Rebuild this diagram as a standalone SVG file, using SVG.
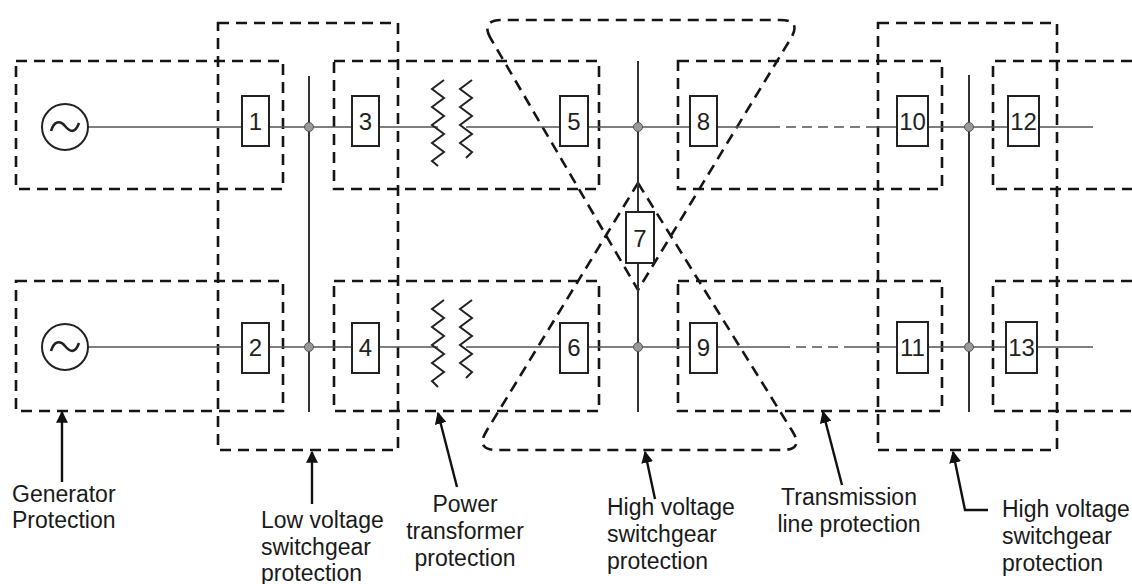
<svg xmlns="http://www.w3.org/2000/svg" width="1132" height="584" viewBox="0 0 1132 584">
<style>
.zone{fill:none;stroke:#151515;stroke-width:2.6;stroke-dasharray:11 7}
.wire{fill:none;stroke:#555;stroke-width:1.4}
.wired{fill:none;stroke:#555;stroke-width:1.4;stroke-dasharray:10 6}
.bus{fill:none;stroke:#333;stroke-width:2}
.jn{fill:#999;stroke:#555;stroke-width:1}
.brk rect{fill:#fff;stroke:#222;stroke-width:2}
.brk text{font-family:"Liberation Sans",Arial,sans-serif;font-size:24px;fill:#222;text-anchor:middle}
.coil{fill:none;stroke:#222;stroke-width:2}
.gen circle{fill:#fff;stroke:#222;stroke-width:2}
.gen path{fill:none;stroke:#222;stroke-width:2.6}
.lbl{font-family:"Liberation Sans",Arial,sans-serif;font-size:23px;fill:#1a1a1a}
.arr{fill:none;stroke:#111;stroke-width:2.4;marker-end:url(#ah)}
</style>
<defs>
<marker id="ah" viewBox="0 0 10 10" refX="9" refY="5" markerWidth="5" markerHeight="5" orient="auto" markerUnits="strokeWidth">
<path d="M0,0 L10,5 L0,10 Z" fill="#111"/>
</marker>
</defs>
<rect width="1132" height="584" fill="#fff"/>

<g id="zones">
<rect id="zone-gen-top" class="zone" x="16" y="61" width="267" height="128"/>
<rect id="zone-gen-bottom" class="zone" x="16" y="281" width="267" height="130"/>
<rect id="zone-lv-switchgear" class="zone" x="218" y="23" width="180" height="427"/>
<rect id="zone-transformer-top" class="zone" x="334" y="61" width="265" height="128"/>
<rect id="zone-transformer-bottom" class="zone" x="334" y="281" width="265" height="130"/>
<rect id="zone-line-top" class="zone" x="678" y="61" width="264" height="128"/>
<rect id="zone-line-bottom" class="zone" x="678" y="281" width="264" height="130"/>
<rect id="zone-hv-switchgear-right" class="zone" x="878" y="23" width="179" height="427"/>
<path id="zone-right-top" class="zone" d="M1132,61 H993 V189 H1132"/>
<path id="zone-right-bottom" class="zone" d="M1132,281 H993 V411 H1132"/>
<path id="zone-hv-upper" class="zone" d="M491,39 Q480,20 502,20 L780,20 Q802,20 790.6,38.8 L638,290 Z"/>
<path id="zone-hv-lower" class="zone" d="M638,183 L792.4,431.3 Q804,450 782,450 L497,450 Q475,450 486.5,431 Z"/>
</g>

<g id="connectors">
<!-- buses -->
<line class="bus" x1="309" y1="76" x2="309" y2="412"/>
<line class="bus" x1="638" y1="61" x2="638" y2="412"/>
<line class="bus" x1="969" y1="75" x2="969" y2="412"/>
<!-- top line -->
<path class="wire" d="M88,127 H242 M269,127 H352 M379,127 H438 M466,127 H560 M588,127 H690 M717,127 H770 M870,127 H897 M928,127 H1008 M1039,127 H1093"/>
<path class="wired" d="M770,127 H870"/>
<!-- bottom line -->
<path class="wire" d="M88,347 H242 M269,347 H352 M379,347 H438 M466,347 H560 M588,347 H690 M717,347 H780 M845,347 H897 M928,347 H1006 M1037,347 H1093"/>
<path class="wired" d="M780,347 H845"/>
<!-- junctions -->
<circle class="jn" cx="309" cy="127" r="4.5"/>
<circle class="jn" cx="638" cy="127" r="4.5"/>
<circle class="jn" cx="969" cy="127" r="4.5"/>
<circle class="jn" cx="309" cy="347" r="4.5"/>
<circle class="jn" cx="638" cy="347" r="4.5"/>
<circle class="jn" cx="969" cy="347" r="4.5"/>
<!-- label arrows -->
<path class="arr" d="M62,482 V412"/>
<path class="arr" d="M312,504 V452"/>
<path class="arr" d="M457,487 L438,413"/>
<path class="arr" d="M655,499 L645,452"/>
<path class="arr" d="M842,485 L823,412"/>
<path class="arr" d="M988,510 H965 L953,452"/>
</g>

<g id="gen-1" class="gen">
<circle cx="65" cy="127" r="23"/>
<path d="M51,131 C54,121 60,120 65,126 S75,134 79,123"/>
</g>
<g id="gen-2" class="gen">
<circle cx="65" cy="347" r="23"/>
<path d="M51,351 C54,341 60,340 65,346 S75,354 79,343"/>
</g>

<g id="transformer-top">
<path class="coil" d="M444,80 L432,89 L444,98 L432,107 L444,116 L432,125 L444,134 L432,143 L444,152 L432,161 L438,166"/>
<path class="coil" d="M472,80 L460,89 L472,98 L460,107 L472,116 L460,125 L472,134 L460,143 L472,152 L466,158"/>
</g>
<g id="transformer-bottom">
<path class="coil" d="M444,300 L432,309 L444,318 L432,327 L444,336 L432,345 L444,354 L432,363 L444,372 L432,381 L438,387"/>
<path class="coil" d="M472,300 L460,309 L472,318 L460,327 L472,336 L460,345 L472,354 L460,363 L472,372 L466,378"/>
</g>

<g id="b1" class="brk"><rect x="242" y="96" width="27" height="50"/><text x="255.5" y="130">1</text></g>
<g id="b2" class="brk"><rect x="242" y="323" width="27" height="50"/><text x="255.5" y="356">2</text></g>
<g id="b3" class="brk"><rect x="352" y="96" width="27" height="50"/><text x="365.5" y="130">3</text></g>
<g id="b4" class="brk"><rect x="352" y="323" width="27" height="50"/><text x="365.5" y="356">4</text></g>
<g id="b5" class="brk"><rect x="560" y="96" width="28" height="50"/><text x="574" y="130">5</text></g>
<g id="b6" class="brk"><rect x="560" y="323" width="28" height="50"/><text x="574" y="356">6</text></g>
<g id="b7" class="brk"><rect x="626" y="212" width="28" height="51"/><text x="640" y="247">7</text></g>
<g id="b8" class="brk"><rect x="690" y="96" width="27" height="50"/><text x="703.5" y="130">8</text></g>
<g id="b9" class="brk"><rect x="690" y="323" width="27" height="50"/><text x="703.5" y="356">9</text></g>
<g id="b10" class="brk"><rect x="897" y="96" width="31" height="50"/><text x="912.5" y="130">10</text></g>
<g id="b11" class="brk"><rect x="897" y="322" width="31" height="51"/><text x="912.5" y="356">11</text></g>
<g id="b12" class="brk"><rect x="1008" y="96" width="31" height="50"/><text x="1023.5" y="130">12</text></g>
<g id="b13" class="brk"><rect x="1006" y="322" width="31" height="51"/><text x="1021.5" y="356">13</text></g>

<g id="labels" class="lbl">
<text x="12" y="502">Generator</text>
<text x="12" y="528">Protection</text>
<text x="261" y="528">Low voltage</text>
<text x="261" y="555">switchgear</text>
<text x="261" y="581">protection</text>
<text x="465" y="512" text-anchor="middle">Power</text>
<text x="465" y="539" text-anchor="middle">transformer</text>
<text x="465" y="566" text-anchor="middle">protection</text>
<text x="607" y="515">High voltage</text>
<text x="607" y="542">switchgear</text>
<text x="607" y="569">protection</text>
<text x="849" y="505" text-anchor="middle">Transmission</text>
<text x="849" y="532" text-anchor="middle">line protection</text>
<text x="1002" y="517">High voltage</text>
<text x="1002" y="544">switchgear</text>
<text x="1002" y="571">protection</text>
</g>
</svg>
